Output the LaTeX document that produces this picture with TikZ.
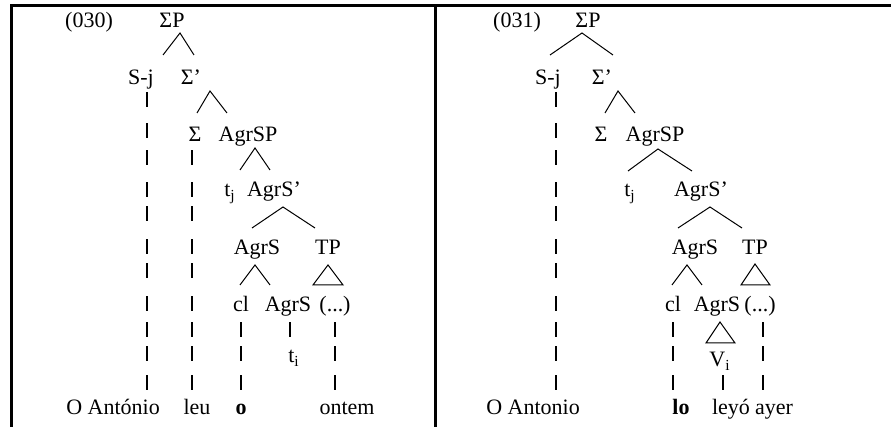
\documentclass[tikz,border=0pt]{standalone}
\usepackage{fontspec}
\setmainfont{Liberation Serif}

% a two-legged fork: apex, left foot, right foot
\newcommand{\fork}[4]{%
  \coordinate (#1) at (#2);
  \coordinate (#1-l) at (#3);
  \coordinate (#1-r) at (#4);
  \draw (#1-l) -- (#1) -- (#1-r);}
% a closed triangle for an unanalysed constituent
\newcommand{\roof}[4]{%
  \coordinate (#1) at (#2);
  \coordinate (#1-l) at (#3);
  \coordinate (#1-r) at (#4);
  \draw (#1) -- (#1-l) -- (#1-r) -- cycle;}

\begin{document}
\begin{tikzpicture}
[x=0.5pt,y=-0.5pt,line width=0.5pt,
 lbl/.style={anchor=base,inner sep=0pt,font=\fontsize{11}{13}\selectfont},
 tick/.style={line width=0.6pt},
 rule/.style={line width=1.5pt}]
\useasboundingbox (0,0) rectangle (891,427);

%% table rules
\draw[rule] (10,6) -- (891,6);
\draw[rule] (11.5,5.5) -- (11.5,427);
\draw[rule] (435.5,5.5) -- (435.5,427);

%% left tree: Portuguese
\node[lbl] (exA)   at (89,28)  {(030)};
\node[lbl] (spA)   at (172,28) {ΣP};
\node[lbl] (sjA)   at (141,85) {S-j};
\node[lbl] (sbA)   at (191,85) {Σ’};
\node[lbl] (sgA)   at (195,142) {Σ};
\node[lbl] (agpA)  at (248,142) {AgrSP};
\node[lbl] (tjA)   at (230,197) {t\textsubscript{j}};
\node[lbl] (agbA)  at (274,197) {AgrS’};
\node[lbl] (agA)   at (257,255) {AgrS};
\node[lbl] (tpA)   at (328,255) {TP};
\node[lbl] (clA)   at (241,312) {cl};
\node[lbl] (ag2A)  at (288,312) {AgrS};
\node[lbl] (dotsA) at (335,312) {(...)};
\node[lbl] (tiA)   at (294,363) {t\textsubscript{i}};
\node[lbl] (wSubjA) at (113,415) {O António};
\node[lbl] (wVerbA) at (197,415) {leu};
\node[lbl] (wClA)   at (241,415) {\textbf{o}};
\node[lbl] (wAdvA)  at (347,415) {ontem};

\fork{fSpA}{180,33}{163,55}{194,55}
\fork{fSbA}{210,91}{197,113}{227,113}
\fork{fAgpA}{255,148}{240,170}{270,170}
\fork{fAgbA}{283,207}{252,228}{315,228}
\fork{fAgA}{255,265}{240,285}{270,285}
\roof{rTpA}{328,265}{313,285}{343,285}

%% the broken lines down to the words
\foreach \y in {100,131,158,190,214,247,271,304,330,354,383}
  \draw[tick] (147,\y-7.5) -- (147,\y+7.5);
\foreach \y in {158,190,214,247,271,304,330,354,383}
  \draw[tick] (192,\y-7.5) -- (192,\y+7.5);
\foreach \y in {330,354,383} {
  \draw[tick] (241,\y-7.5) -- (241,\y+7.5);
  \draw[tick] (335,\y-7.5) -- (335,\y+7.5);
}
\draw[tick] (290,322.5) -- (290,337.5);

%% right tree: Spanish
\node[lbl] (exB)   at (517,28)  {(031)};
\node[lbl] (spB)   at (588,28)  {ΣP};
\node[lbl] (sjB)   at (548,85)  {S-j};
\node[lbl] (sbB)   at (602,85)  {Σ’};
\node[lbl] (sgB)   at (601,142) {Σ};
\node[lbl] (agpB)  at (655,142) {AgrSP};
\node[lbl] (tjB)   at (630,197) {t\textsubscript{j}};
\node[lbl] (agbB)  at (701,197) {AgrS’};
\node[lbl] (agB)   at (695,255) {AgrS};
\node[lbl] (tpB)   at (755,255) {TP};
\node[lbl] (clB)   at (673,312) {cl};
\node[lbl] (ag2B)  at (717,312) {AgrS};
\node[lbl] (dotsB) at (760,312) {(...)};
\node[lbl] (viB)   at (720,367) {V\textsubscript{i}};
\node[lbl] (wSubjB) at (533,415) {O Antonio};
\node[lbl] (wClB)   at (681,415) {\textbf{lo}};
\node[lbl] (wVerbB) at (731,415) {leyó};
\node[lbl] (wAdvB)  at (774,415) {ayer};

\fork{fSpB}{582,33}{550,55}{613,55}
\fork{fSbB}{618,91}{605,113}{635,113}
\fork{fAgpB}{658,149}{628,171}{692,171}
\fork{fAgbB}{710,207}{678,228}{742,228}
\fork{fAgB}{687,265}{672,285}{702,285}
\roof{rTpB}{755,264}{741,285}{770,285}
\roof{rAgB}{720,322}{706,343}{735,343}

\foreach \y in {100,131,158,190,214,247,271,304,330,354,383}
  \draw[tick] (556,\y-7.5) -- (556,\y+7.5);
\foreach \y in {330,354,383} {
  \draw[tick] (673,\y-7.5) -- (673,\y+7.5);
  \draw[tick] (763,\y-7.5) -- (763,\y+7.5);
}
\draw[tick] (723,375.5) -- (723,390.5);
\end{tikzpicture}
\end{document}
